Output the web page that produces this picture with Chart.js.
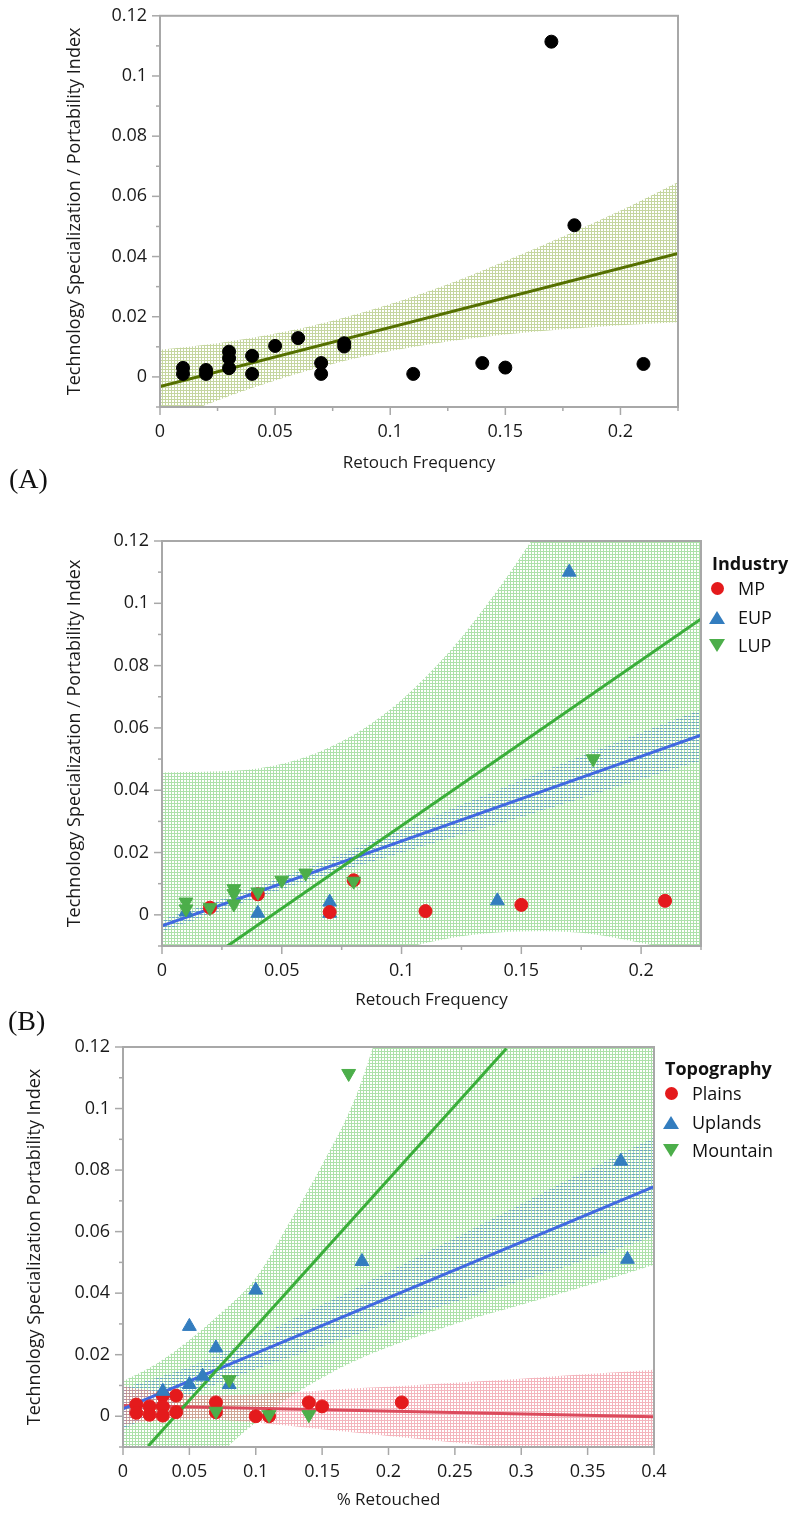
<!DOCTYPE html>
<html>
<head>
<meta charset="utf-8">
<script src="https://cdn.jsdelivr.net/npm/chart.js@4/dist/chart.umd.min.js"></script>
<style>
  html, body { margin: 0; padding: 0; background: #fff; }
  body { width: 793px; height: 1513px; position: relative; overflow: hidden; font-family: 'Open Sans', sans-serif; }
  canvas { position: absolute; left: 0; }
  .panel { position: absolute; font-family: 'Liberation Serif', 'Times New Roman', serif; font-size: 28px; line-height: 28px; color: #111; }
  .lgt { position: absolute; font-family: 'Open Sans', sans-serif; font-weight: 700; font-size: 18px; line-height: 24px; color: #111; white-space: nowrap; }
  .lgi { position: absolute; font-family: 'Open Sans', sans-serif; font-size: 18px; line-height: 24px; color: #111; white-space: nowrap; }
  .mk { position: absolute; width: 0; height: 0; }
</style>
</head>
<body>
<canvas id="cA" width="793" height="480" style="top:0px"></canvas>
<canvas id="cB" width="793" height="515" style="top:500px"></canvas>
<canvas id="cC" width="793" height="483" style="top:1030px"></canvas>
<div class="panel" style="left:9px;top:465px">(A)</div>
<div class="panel" style="left:8px;top:1007px">(B)</div>
<div id="legends"></div>

<script>
// ================= DATA =================
// ---- Panel A: Retouch Frequency vs index (all sites) ----
const aPointX = [0.01, 0.01, 0.02, 0.02, 0.03, 0.03, 0.03, 0.04, 0.04, 0.05, 0.06, 0.07, 0.07, 0.08, 0.08, 0.11, 0.14, 0.15, 0.17, 0.18, 0.21];
const aPointY = [0.003, 0.001, 0.0023, 0.001, 0.0084, 0.0062, 0.0029, 0.007, 0.001, 0.0103, 0.0129, 0.0046, 0.001, 0.0112, 0.0101, 0.001, 0.0046, 0.0031, 0.1114, 0.0504, 0.0043];
const aFitX = [0, 0.225];
const aFitY = [-0.0032, 0.041];
const aBandX  = [0, 0.025, 0.05, 0.075, 0.1, 0.125, 0.15, 0.175, 0.2, 0.225];
const aBandHi = [0.009, 0.0112, 0.0144, 0.0187, 0.0242, 0.0308, 0.0385, 0.0467, 0.0553, 0.0648];
const aBandLo = [-0.0154, -0.0078, -0.0012, 0.0043, 0.0086, 0.0118, 0.0141, 0.0158, 0.0172, 0.0182];

// ---- Panel B: by Industry ----
const bGroups = ['MP', 'EUP', 'LUP'];
const bMPX  = [0.02, 0.04, 0.07, 0.08, 0.11, 0.15, 0.21];
const bMPY  = [0.0023, 0.0066, 0.0009, 0.0111, 0.0012, 0.0032, 0.0045];
const bEUPX = [0.01, 0.04, 0.07, 0.07, 0.14, 0.17];
const bEUPY = [0.0009, 0.0005, 0.0041, 0.0005, 0.0045, 0.110];
const bLUPX = [0.01, 0.01, 0.02, 0.03, 0.03, 0.03, 0.04, 0.05, 0.06, 0.08, 0.18];
const bLUPY = [0.0041, 0.0019, 0.0023, 0.0084, 0.0068, 0.0035, 0.0073, 0.0111, 0.0134, 0.0108, 0.0501];
const bEUPFitX = [0, 0.225];
const bEUPFitY = [-0.0035, 0.0577];
const bLUPFitX = [0.0273, 0.225];
const bLUPFitY = [-0.01, 0.095];
const bBandX     = [0, 0.02, 0.04, 0.06, 0.08, 0.1, 0.12, 0.14, 0.16, 0.18, 0.2, 0.225];
const bLUPBandHi = [0.0457, 0.046, 0.047, 0.0507, 0.0578, 0.069, 0.0845, 0.1042, 0.127, 0.152, 0.178, 0.21];
const bLUPBandLo = [-0.06, -0.046, -0.034, -0.024, -0.016, -0.011, -0.0075, -0.0057, -0.0053, -0.0062, -0.009, -0.013];
const bEUPBandHi = [-0.0015, 0.0037, 0.0092, 0.015, 0.0213, 0.0275, 0.0338, 0.0401, 0.0464, 0.0524, 0.0585, 0.0659];
const bEUPBandLo = [-0.0055, 0.0001, 0.0056, 0.0106, 0.0153, 0.0199, 0.0246, 0.0291, 0.0338, 0.0386, 0.0435, 0.0495];

// ---- Panel C: by Topography ----
const cGroups = ['Plains', 'Uplands', 'Mountain'];
const cPlainsX = [0.01, 0.01, 0.02, 0.02, 0.03, 0.03, 0.03, 0.04, 0.04, 0.07, 0.07, 0.1, 0.11, 0.14, 0.15, 0.21];
const cPlainsY = [0.0038, 0.0011, 0.0032, 0.0005, 0.0067, 0.0032, 0.0002, 0.0067, 0.0013, 0.0045, 0.0013, 0.0, 0.0, 0.0045, 0.0032, 0.0045];
const cUplandsX = [0.03, 0.05, 0.05, 0.06, 0.07, 0.08, 0.1, 0.18, 0.375, 0.38];
const cUplandsY = [0.0081, 0.0103, 0.0292, 0.013, 0.0222, 0.0103, 0.041, 0.0503, 0.0829, 0.051];
const cMountainX = [0.07, 0.08, 0.11, 0.14, 0.17];
const cMountainY = [0.0016, 0.0119, 0.0005, 0.0005, 0.1114];
const cPlainsFitX = [0, 0.4];
const cPlainsFitY = [0.0035, -0.0002];
const cUplandsFitX = [0, 0.4];
const cUplandsFitY = [0.0024, 0.0746];
const cMountainFitX = [0.019, 0.2888];
const cMountainFitY = [-0.0097, 0.1195];
const cBandX = [0, 0.025, 0.05, 0.075, 0.1, 0.125, 0.15, 0.175, 0.2, 0.25, 0.3, 0.35, 0.4];
const cMountainBandHi = [0.0114, 0.017, 0.0248, 0.034, 0.0449, 0.0627, 0.0817, 0.1035, 0.135, 0.19, 0.245, 0.3, 0.355];
const cMountainBandLo = [-0.045, -0.035, -0.024, -0.0115, -0.002, 0.006, 0.0125, 0.018, 0.0225, 0.03, 0.0362, 0.0425, 0.0492];
const cUplandsBandHi = [0.0092, 0.0124, 0.0161, 0.0206, 0.0256, 0.031, 0.0363, 0.0416, 0.047, 0.0579, 0.069, 0.08, 0.0906];
const cUplandsBandLo = [-0.0044, 0.0014, 0.0067, 0.0112, 0.0152, 0.019, 0.0227, 0.0264, 0.03, 0.0371, 0.044, 0.051, 0.0586];
const cPlainsBandHi = [0.0097, 0.0081, 0.007, 0.0068, 0.0072, 0.0077, 0.0084, 0.0091, 0.0096, 0.0109, 0.0122, 0.0137, 0.0151];
const cPlainsBandLo = [-0.0027, -0.0015, -0.001, -0.0012, -0.002, -0.0031, -0.0042, -0.0053, -0.0064, -0.0085, -0.0108, -0.0133, -0.0155];

// tick label settings
const yTickStep = 0.01;
const yLabelEvery = 20;     // label every 0.02 (in thousandths)
const abTickStep = 0.025;
const abLabelEvery = 50;    // label every 0.05
const cTickStep = 0.05;
const cLabelEvery = 50;

// ================= STYLE =================
const FONT = "'Open Sans', sans-serif";
const AXIS = '#a8a8a8';
const TXT = '#1a1a1a';
const RED = '#e41a1c', BLUE = '#337dbf', GREEN = '#4cae4a';

function xy(xs, ys) { return xs.map((x, i) => ({ x: x, y: ys[i] })); }

function meshPattern(rgba) {
  const c = document.createElement('canvas'); c.width = 3; c.height = 3;
  const g = c.getContext('2d'); g.fillStyle = rgba;
  g.fillRect(0, 0, 3, 1); g.fillRect(0, 1, 1, 2);
  return g.createPattern(c, 'repeat');
}
function linePattern(rgba) {
  const c = document.createElement('canvas'); c.width = 4; c.height = 3;
  const g = c.getContext('2d'); g.fillStyle = rgba;
  g.fillRect(0, 0, 3, 1);
  return g.createPattern(c, 'repeat');
}

function labeler(every) {
  return function (v) {
    const k = Math.round(v * 1000);
    return (k >= 0 && k % every === 0) ? String(+v.toFixed(2)) : '';
  };
}

const frameTicks = {
  id: 'frameTicks',
  afterDraw(chart) {
    const ctx = chart.ctx, ca = chart.chartArea;
    ctx.save();
    ctx.strokeStyle = AXIS;
    ctx.lineWidth = 1.5;
    ['x', 'y'].forEach(id => {
      const s = chart.scales[id];
      s.ticks.forEach((t, i) => {
        const p = s.getPixelForTick(i);
        const len = t.label !== '' ? 8 : 4;
        ctx.beginPath();
        if (id === 'x') { ctx.moveTo(p, ca.bottom); ctx.lineTo(p, ca.bottom + len); }
        else { ctx.moveTo(ca.left, p); ctx.lineTo(ca.left - len, p); }
        ctx.stroke();
      });
    });
    ctx.lineWidth = 2;
    ctx.strokeRect(ca.left, ca.top, ca.right - ca.left, ca.bottom - ca.top);
    ctx.restore();
  }
};

function xScale(max, step, every, title, height, titlePad) {
  return {
    type: 'linear', min: 0, max: max,
    ticks: { stepSize: step, autoSkip: false, maxRotation: 0, minRotation: 0, padding: 6, color: TXT,
             font: { family: FONT, size: 18 }, callback: labeler(every) },
    grid: { drawOnChartArea: false, tickLength: 8, tickColor: 'rgba(0,0,0,0)' },
    border: { display: false },
    title: { display: true, text: title, color: TXT, font: { family: FONT, size: 17 }, padding: { top: 0, bottom: titlePad } },
    afterFit(s) { s.height = height; }
  };
}
function yScale(title, width, titlePad) {
  return {
    type: 'linear', min: -0.01, max: 0.12,
    ticks: { stepSize: yTickStep, autoSkip: false, padding: 5, color: TXT,
             font: { family: FONT, size: 18 }, callback: labeler(yLabelEvery) },
    grid: { drawOnChartArea: false, tickLength: 8, tickColor: 'rgba(0,0,0,0)' },
    border: { display: false },
    title: { display: true, text: title, color: TXT, font: { family: FONT, size: 18 }, padding: { top: titlePad, bottom: 0 } },
    afterFit(s) { s.width = width; }
  };
}

function pts(xs, ys, color, style, rot, r) {
  return { type: 'scatter', data: xy(xs, ys), pointStyle: style, rotation: rot, pointRadius: r, pointHoverRadius: r,
           backgroundColor: color, borderColor: color, borderWidth: 1, order: 0 };
}
function fitLine(xs, ys, color) {
  return { type: 'line', data: xy(xs, ys), borderColor: color, borderWidth: 3, pointRadius: 0, fill: false,
           tension: 0, order: 1, clip: 0 };
}
function band(xs, hi, lo, pattern, ord) {
  return [
    { type: 'line', data: xy(xs, hi), borderColor: 'rgba(0,0,0,0)', borderWidth: 1, pointRadius: 0, fill: false,
      cubicInterpolationMode: 'monotone', order: ord },
    { type: 'line', data: xy(xs, lo), borderColor: 'rgba(0,0,0,0)', borderWidth: 1, pointRadius: 0, fill: '-1',
      backgroundColor: pattern, cubicInterpolationMode: 'monotone', order: ord }
  ];
}

function makeChart(id, datasets, x, y, padding) {
  return new Chart(document.getElementById(id), {
    type: 'scatter',
    data: { datasets: datasets },
    options: {
      responsive: false, animation: false, events: [],
      layout: { padding: padding },
      plugins: { legend: { display: false }, tooltip: { enabled: false } },
      scales: { x: x, y: y }
    },
    plugins: [frameTicks]
  });
}

// ---------- Chart A ----------
makeChart('cA', [
  pts(aPointX, aPointY, '#000000', 'circle', 0, 6.5),
  fitLine(aFitX, aFitY, '#557000'),
  ...band(aBandX, aBandHi, aBandLo, meshPattern('rgba(150,180,80,0.55)'), 3)
], xScale(0.225, abTickStep, abLabelEvery, 'Retouch Frequency', 73, 7),
   yScale('Technology Specialization / Portability Index', 160, 64),
   { left: 0, right: 115, top: 15, bottom: 0 });

// ---------- Chart B ----------
makeChart('cB', [
  pts(bLUPX, bLUPY, GREEN, 'triangle', 180, 8),
  pts(bMPX, bMPY, RED, 'circle', 0, 6.5),
  pts(bEUPX, bEUPY, BLUE, 'triangle', 0, 8),
  fitLine(bLUPFitX, bLUPFitY, '#3aae3a'),
  fitLine(bEUPFitX, bEUPFitY, '#4169e1'),
  ...band(bBandX, bEUPBandHi, bEUPBandLo, linePattern('rgba(90,150,205,0.75)'), 2),
  ...band(bBandX, bLUPBandHi, bLUPBandLo, meshPattern('rgba(105,200,100,0.55)'), 3)
], xScale(0.225, abTickStep, abLabelEvery, 'Retouch Frequency', 69, 5),
   yScale('Technology Specialization / Portability Index', 162, 64),
   { left: 0, right: 92, top: 41, bottom: 0 });

// ---------- Chart C ----------
makeChart('cC', [
  pts(cMountainX, cMountainY, GREEN, 'triangle', 180, 8),
  pts(cUplandsX, cUplandsY, BLUE, 'triangle', 0, 8),
  pts(cPlainsX, cPlainsY, RED, 'circle', 0, 6.5),
  fitLine(cMountainFitX, cMountainFitY, '#3aae3a'),
  fitLine(cUplandsFitX, cUplandsFitY, '#4169e1'),
  fitLine(cPlainsFitX, cPlainsFitY, '#dc4a5c'),
  ...band(cBandX, cPlainsBandHi, cPlainsBandLo, meshPattern('rgba(235,120,135,0.55)'), 2),
  ...band(cBandX, cUplandsBandHi, cUplandsBandLo, linePattern('rgba(90,150,205,0.75)'), 3),
  ...band(cBandX, cMountainBandHi, cMountainBandLo, meshPattern('rgba(105,200,100,0.55)'), 4)
], xScale(0.4, cTickStep, cLabelEvery, '% Retouched', 66, 3),
   yScale('Technology Specialization Portability Index', 123, 24),
   { left: 0, right: 139, top: 17, bottom: 0 });

// ---------- HTML legends ----------
function legend(title, names, colors, shapes, titleLeft, titleCY, markX, textLeft, rowsCY) {
  const host = document.getElementById('legends');
  const t = document.createElement('div');
  t.className = 'lgt'; t.textContent = title;
  t.style.left = titleLeft + 'px'; t.style.top = (titleCY - 12) + 'px';
  host.appendChild(t);
  names.forEach((n, i) => {
    const cy = rowsCY[i];
    const m = document.createElement('div');
    m.className = 'mk';
    if (shapes[i] === 'circle') {
      m.style.width = '13px'; m.style.height = '13px'; m.style.borderRadius = '50%';
      m.style.background = colors[i];
      m.style.left = (markX - 6.5) + 'px'; m.style.top = (cy - 6.5) + 'px';
    } else {
      m.style.borderLeft = '8px solid transparent';
      m.style.borderRight = '8px solid transparent';
      if (shapes[i] === 'up') m.style.borderBottom = '13px solid ' + colors[i];
      else m.style.borderTop = '13px solid ' + colors[i];
      m.style.left = (markX - 8) + 'px'; m.style.top = (cy - 6.5) + 'px';
    }
    host.appendChild(m);
    const l = document.createElement('div');
    l.className = 'lgi'; l.textContent = n;
    l.style.left = textLeft + 'px'; l.style.top = (cy - 12) + 'px';
    host.appendChild(l);
  });
}
legend('Industry', bGroups, [RED, BLUE, GREEN], ['circle', 'up', 'down'], 712, 563, 717, 738, [588, 617, 645]);
legend('Topography', cGroups, [RED, BLUE, GREEN], ['circle', 'up', 'down'], 665, 1068, 671, 692, [1093, 1122, 1150]);
</script>
</body>
</html>
